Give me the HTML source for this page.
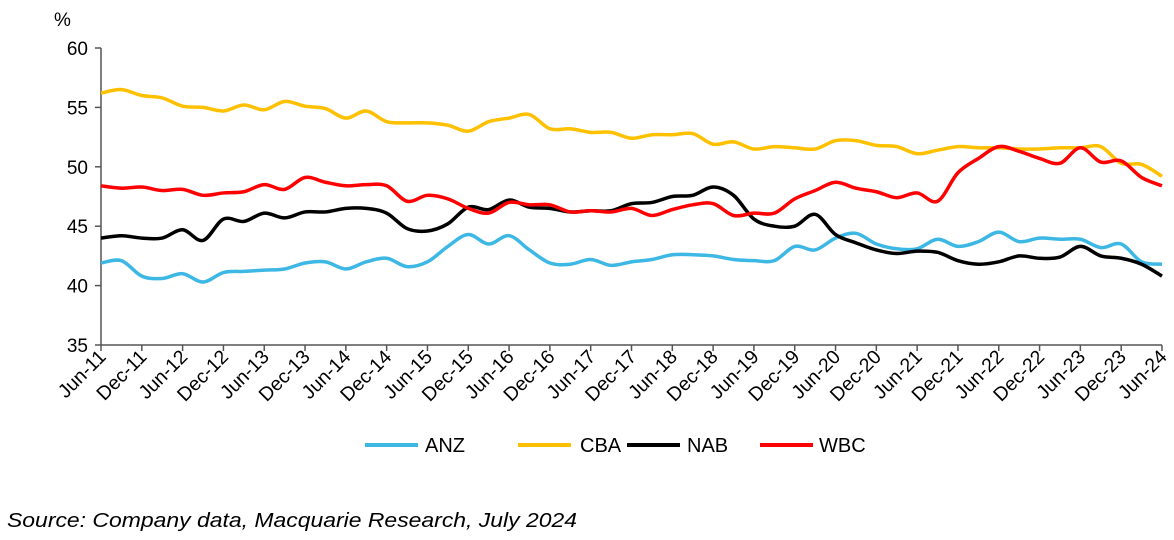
<!DOCTYPE html>
<html><head><meta charset="utf-8"><style>
body{margin:0;background:#fff;width:1174px;height:535px;overflow:hidden;font-family:"Liberation Sans",Arial,sans-serif}
</style></head><body>
<svg id="chart" width="1174" height="535" xmlns="http://www.w3.org/2000/svg" font-family="Liberation Sans, Arial, sans-serif">
<text x="54" y="26" font-size="19">%</text>
<g id="axes"></g><g id="series"></g>
<g font-size="20">
<line x1="365" y1="445" x2="418" y2="445" stroke="#3db7e4" stroke-width="4"/>
<text x="425" y="452">ANZ</text>
<line x1="518" y1="445" x2="571" y2="445" stroke="#ffc000" stroke-width="4"/>
<text x="580" y="452">CBA</text>
<line x1="627" y1="445" x2="680" y2="445" stroke="#000" stroke-width="4"/>
<text x="687" y="452">NAB</text>
<line x1="760" y1="445" x2="813" y2="445" stroke="#ff0000" stroke-width="4"/>
<text x="819" y="452">WBC</text>
</g>
<text x="7" y="527" font-size="20" font-style="italic" textLength="570" lengthAdjust="spacingAndGlyphs">Source: Company data, Macquarie Research, July 2024</text>
</svg>
<script>
const tickLabels=["Jun-11","Dec-11","Jun-12","Dec-12","Jun-13","Dec-13","Jun-14","Dec-14","Jun-15","Dec-15","Jun-16","Dec-16","Jun-17","Dec-17","Jun-18","Dec-18","Jun-19","Dec-19","Jun-20","Dec-20","Jun-21","Dec-21","Jun-22","Dec-22","Jun-23","Dec-23","Jun-24"];
const yTicks=[35,40,45,50,55,60];
const anz=[41.9,42.1,40.8,40.6,41.0,40.3,41.1,41.2,41.3,41.4,41.9,42.0,41.4,42.0,42.3,41.6,42.0,43.3,44.3,43.5,44.2,43.0,41.9,41.8,42.2,41.7,42.0,42.2,42.6,42.6,42.5,42.2,42.1,42.1,43.3,43.0,44.0,44.4,43.5,43.1,43.1,43.9,43.3,43.7,44.5,43.7,44.0,43.9,43.9,43.2,43.5,42.0,41.8];
const cba=[56.2,56.5,56.0,55.8,55.1,55.0,54.7,55.2,54.8,55.5,55.1,54.9,54.1,54.7,53.8,53.7,53.7,53.5,53.0,53.8,54.1,54.4,53.2,53.2,52.9,52.9,52.4,52.7,52.7,52.8,51.9,52.1,51.5,51.7,51.6,51.5,52.2,52.2,51.8,51.7,51.1,51.4,51.7,51.6,51.6,51.5,51.5,51.6,51.6,51.7,50.3,50.2,49.2];
const nab=[44.0,44.2,44.0,44.0,44.7,43.8,45.6,45.4,46.1,45.7,46.2,46.2,46.5,46.5,46.1,44.8,44.6,45.2,46.6,46.4,47.2,46.6,46.5,46.2,46.3,46.3,46.9,47.0,47.5,47.6,48.3,47.6,45.6,45.0,45.0,46.0,44.3,43.6,43.0,42.7,42.9,42.8,42.1,41.8,42.0,42.5,42.3,42.4,43.3,42.5,42.3,41.8,40.8];
const wbc=[48.4,48.2,48.3,48.0,48.1,47.6,47.8,47.9,48.5,48.1,49.1,48.7,48.4,48.5,48.4,47.1,47.6,47.3,46.5,46.1,47.0,46.8,46.8,46.2,46.3,46.2,46.5,45.9,46.4,46.8,46.9,45.9,46.1,46.1,47.3,48.0,48.7,48.2,47.9,47.4,47.8,47.1,49.5,50.7,51.7,51.3,50.7,50.3,51.6,50.4,50.5,49.1,48.4];
const NS="http://www.w3.org/2000/svg";
const X0=101,X1=1162,Y0=345,Y1=48;
const nq=anz.length-1;
const xq=i=>X0+(X1-X0)*i/nq;
const y=v=>Y0-(v-35)/(60-35)*(Y0-Y1);
function mk(t,a,p){const e=document.createElementNS(NS,t);for(const k in a)e.setAttribute(k,a[k]);p.appendChild(e);return e;}
const ax=document.getElementById('axes');
const yl=mk('line',{x1:X0,y1:Y1,x2:X0,y2:Y0,stroke:'#555','stroke-width':1.5},ax);


const xl=mk('line',{x1:X0,y1:Y0,x2:X1,y2:Y0,stroke:'#555','stroke-width':1.5},ax);


yTicks.forEach(v=>{
 mk('line',{x1:X0-6,y1:y(v),x2:X0,y2:y(v),stroke:'#555','stroke-width':1.5},ax);
 const t=mk('text',{x:88,y:y(v)+7,'text-anchor':'end','font-size':19},ax);t.textContent=v;
 
 
});
tickLabels.forEach((s,i)=>{
 const x=X0+(X1-X0)*i/(tickLabels.length-1);
 mk('line',{x1:x,y1:Y0,x2:x,y2:Y0+6,stroke:'#555','stroke-width':1.5},ax);
 const t=mk('text',{x:x+6,y:Y0+13,'text-anchor':'end','font-size':19.5,transform:`rotate(-45 ${x+6} ${Y0+13})`},ax);t.textContent=s;
 
 
});
function smooth(vals){
 const p=vals.map((v,i)=>[xq(i),y(v)]);let d=`M${p[0][0]},${p[0][1]}`;
 for(let i=0;i<p.length-1;i++){const a=p[Math.max(0,i-1)],b=p[i],c=p[i+1],e=p[Math.min(p.length-1,i+2)];
 d+=` C${b[0]+(c[0]-a[0])/6},${b[1]+(c[1]-a[1])/6} ${c[0]-(e[0]-b[0])/6},${c[1]-(e[1]-b[1])/6} ${c[0]},${c[1]}`;}
 return d;}
const sg=document.getElementById('series');
[[anz,'#3db7e4','anz'],[cba,'#ffc000','cba'],[nab,'#000000','nab'],[wbc,'#ff0000','wbc']].forEach(([v,c,n])=>{
 const pth=mk('path',{d:smooth(v),fill:'none',stroke:c,'stroke-width':3.5,'stroke-linejoin':'round'},sg);
 
 
});
</script>
</body></html>
